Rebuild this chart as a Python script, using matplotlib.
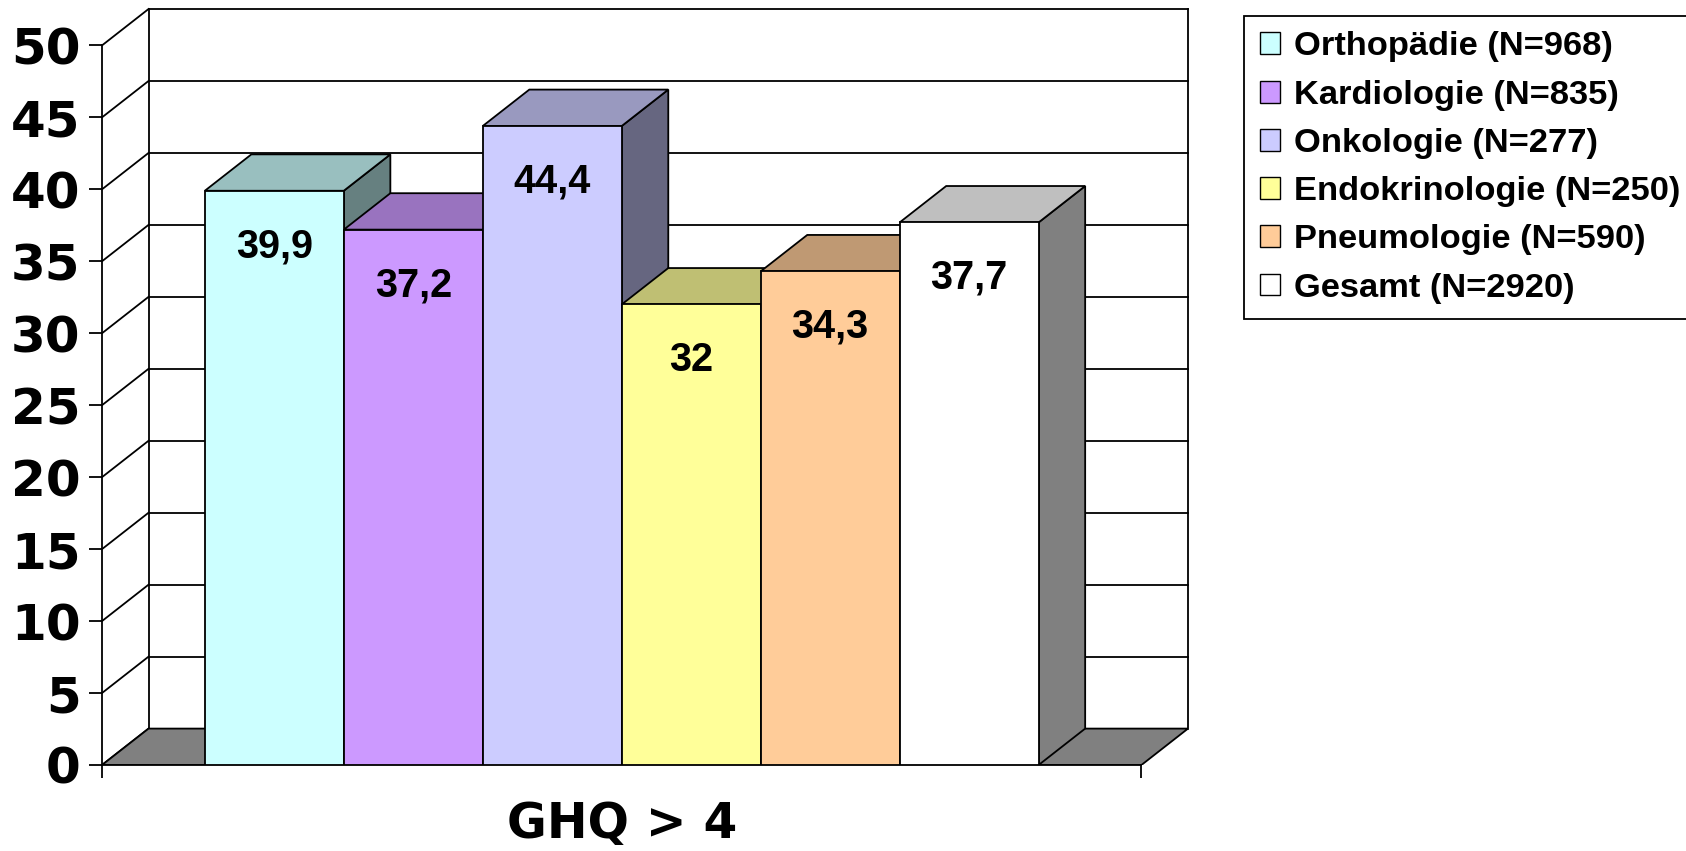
import matplotlib
matplotlib.use("Agg")
import matplotlib.pyplot as plt
from matplotlib.patches import Polygon, Patch
from matplotlib.colors import to_rgb

# share of patients with GHQ > 4, per clinic group
groups = ['Orthopädie (N=968)', 'Kardiologie (N=835)', 'Onkologie (N=277)',
          'Endokrinologie (N=250)', 'Pneumologie (N=590)', 'Gesamt (N=2920)']
values = [39.9, 37.2, 44.4, 32.0, 34.3, 37.7]
value_labels = ['39,9', '37,2', '44,4', '32', '34,3', '37,7']
colors = ['#CCFFFF', '#CC99FF', '#CCCCFF', '#FFFF99', '#FFCC99', '#FFFFFF']
y_ticks = [0, 5, 10, 15, 20, 25, 30, 35, 40, 45, 50]
category = 'GHQ > 4'

# oblique depth of the fake 3d box, in data units
dx, dy = 0.335, 2.53
x0, x1 = -1.24, 6.24
lw = 1.3


def shade(c, f):
    r, g, b = to_rgb(c)
    return (r * f, g * f, b * f)


fig = plt.figure(figsize=(16.86, 8.51), dpi=100)
ax = fig.add_axes([102 / 1686, 86 / 851, (1188 - 102) / 1686, (765 - 9) / 851])
ax.set_xlim(x0, x1 + dx)
ax.set_ylim(0, y_ticks[-1] + dy)

# floor
ax.add_patch(Polygon([(x0, 0), (x1, 0), (x1 + dx, dy), (x0 + dx, dy)],
                     closed=True, facecolor='#808080', edgecolor='black',
                     lw=lw, zorder=1.5))

# side wall diagonals and back wall grid
for t in y_ticks:
    ax.plot([x0, x0 + dx], [t, t + dy], color='black', lw=lw, zorder=1,
            clip_on=False)
    if t > 0:
        ax.plot([x0 + dx, x1 + dx], [t + dy, t + dy], color='black', lw=lw,
                zorder=1, clip_on=False)
for xb in (x0 + dx, x1 + dx):
    ax.plot([xb, xb], [dy, y_ticks[-1] + dy], color='black', lw=lw, zorder=1,
            clip_on=False)

xs = list(range(len(values)))
ax.bar(xs, values, width=1.0, color=colors, edgecolor='black', lw=lw, zorder=3)

for i, (v, c) in enumerate(zip(values, colors)):
    xl, xr = i - 0.5, i + 0.5
    ax.add_patch(Polygon([(xr, 0), (xr + dx, dy), (xr + dx, v + dy), (xr, v)],
                         closed=True, facecolor=shade(c, 0.5),
                         edgecolor='black', lw=lw, zorder=2))
    ax.add_patch(Polygon([(xl, v), (xr, v), (xr + dx, v + dy), (xl + dx, v + dy)],
                         closed=True, facecolor=shade(c, 0.75),
                         edgecolor='black', lw=lw, zorder=2))
    ax.annotate(value_labels[i], (i, v), xytext=(0, -40),
                textcoords='offset points', ha='center', va='center',
                fontsize=28.5, fontweight='bold', family='Liberation Sans',
                zorder=4)

# axes
for s in ('top', 'right'):
    ax.spines[s].set_visible(False)
ax.spines['left'].set_bounds(0, y_ticks[-1])
ax.spines['bottom'].set_bounds(x0, x1)
ax.spines['left'].set_linewidth(lw)
ax.spines['bottom'].set_linewidth(lw)

ax.set_yticks(y_ticks)
ax.tick_params(axis='y', direction='out', length=9.4, width=lw, pad=6,
               labelsize=36)
for lab in ax.get_yticklabels():
    lab.set_fontweight('bold')

ax.set_xticks([(x0 + x1) / 2])
ax.set_xticklabels([category], fontsize=35, fontweight='bold')
ax.set_xticks([x0, x1], minor=True)
ax.tick_params(axis='x', which='major', length=0, pad=25)
ax.tick_params(axis='x', which='minor', direction='out', length=9.4, width=lw)

handles = [Patch(facecolor=c, edgecolor='black', lw=1) for c in colors]
leg = fig.legend(handles, groups, loc='upper left',
                 bbox_to_anchor=(1244 / 1686, 1 - 16 / 851),
                 bbox_transform=fig.transFigure, borderaxespad=0,
                 prop={'family': 'Liberation Sans', 'weight': 'bold', 'size': 24.8},
                 handlelength=0.6, handleheight=0.6, handletextpad=0.4,
                 labelspacing=0.5, borderpad=0.45, fancybox=False,
                 framealpha=1, edgecolor='black')
leg.get_frame().set_linewidth(lw)

fig.savefig('out.png', dpi=100)
